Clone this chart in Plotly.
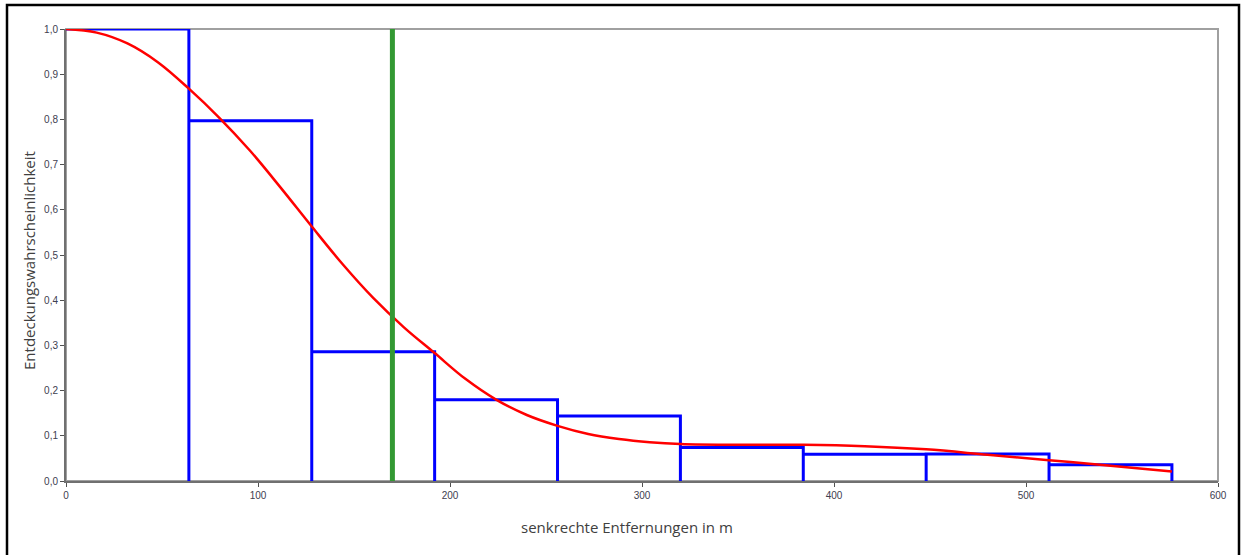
import plotly.graph_objects as go

# Histogram of detection probability (bin edges in m, heights)
bin_edges = [0, 64, 128, 192, 256, 320, 384, 448, 512, 576]
bin_heights = [1.0, 0.797, 0.286, 0.180, 0.144, 0.074, 0.059, 0.060, 0.036]

# Fitted detection function (red curve)
curve_x = [0, 16, 32, 48, 64, 80, 96, 112, 128, 144, 160, 176, 192, 208, 224,
           240, 256, 272, 288, 304, 320, 352, 384, 416, 448, 480, 512, 544, 576]
curve_y = [1.0, 0.992, 0.968, 0.926, 0.868, 0.803, 0.73, 0.648, 0.563, 0.48,
           0.405, 0.34, 0.283, 0.226, 0.18, 0.146, 0.122, 0.104, 0.093, 0.086,
           0.082, 0.08, 0.08, 0.077, 0.07, 0.058, 0.046, 0.034, 0.021]

# Truncation / cutoff distance (green line)
cutoff = 170

y_ticks = [0, 0.1, 0.2, 0.3, 0.4, 0.5, 0.6, 0.7, 0.8, 0.9, 1.0]
x_ticks = [0, 100, 200, 300, 400, 500, 600]

# Build histogram outline (each bin: top edge plus vertical edges down to 0;
# the left edge of the first bin coincides with the y axis)
hist_x, hist_y = [], []
for i, h in enumerate(bin_heights):
    x0, x1 = bin_edges[i], bin_edges[i + 1]
    if i == 0:
        hist_x += [x0, x1, x1]
        hist_y += [h, h, 0]
    else:
        hist_x += [x0, x0, x1, x1]
        hist_y += [0, h, h, 0]

fig = go.Figure()
fig.add_trace(go.Scatter(
    x=hist_x, y=hist_y, mode="lines", line=dict(color="#0000FF", width=3),
    cliponaxis=False, showlegend=False, hoverinfo="skip",
))
fig.add_trace(go.Scatter(
    x=curve_x, y=curve_y, mode="lines", line=dict(color="#FF0000", width=2.5, shape="spline"),
    cliponaxis=False, showlegend=False,
))
fig.add_trace(go.Scatter(
    x=[cutoff, cutoff], y=[0, 1.0], mode="lines", line=dict(color="#339933", width=5),
    cliponaxis=False, showlegend=False,
))

tickfont = dict(family="Liberation Sans, Arial, sans-serif", size=10, color="#404050")
titlefont = dict(family="Open Sans, sans-serif", size=15, color="#404040")

L, T, PW, PH = 66, 29, 1152, 452

fig.update_layout(
    width=1242, height=555,
    margin=dict(l=L, r=1242 - L - PW, t=T, b=555 - T - PH),
    paper_bgcolor="white", plot_bgcolor="white",
    separators=",.",
    xaxis=dict(
        range=[0, 600], tickvals=x_ticks, showgrid=False, zeroline=False,
        showline=True, linecolor="#707070", linewidth=2, layer="above traces",
        ticks="outside", ticklen=4, tickcolor="#505050", tickwidth=1,
        tickfont=tickfont,
    ),
    yaxis=dict(
        range=[0, 1.0], tickvals=y_ticks, tickformat=".1f", showgrid=False, zeroline=False,
        showline=True, linecolor="#707070", linewidth=2, layer="above traces",
        ticks="outside", ticklen=4, tickcolor="#505050", tickwidth=1,
        tickfont=tickfont,
    ),
    shapes=[
        # plot area border (top/right)
        dict(type="rect", xref="paper", yref="paper", x0=0, x1=1, y0=0, y1=1,
             line=dict(color="#a0a0a0", width=2), layer="below"),
        # outer chart border
        dict(type="rect", xref="paper", yref="paper",
             x0=(7 - L) / PW, x1=(1239 - L) / PW,
             y0=(T + PH - 560) / PH, y1=(T + PH - 5) / PH,
             line=dict(color="#000000", width=2.5)),
    ],
    annotations=[
        dict(text="senkrechte Entfernungen in m", xref="paper", yref="paper",
             x=(627 - L) / PW, y=(T + PH - 527) / PH, xanchor="center", yanchor="middle",
             showarrow=False, font=titlefont),
        dict(text="Entdeckungswahrscheinlichkeit", xref="paper", yref="paper",
             x=(29 - L) / PW, y=(T + PH - 261) / PH, xanchor="center", yanchor="middle",
             textangle=-90, showarrow=False, font=titlefont),
    ],
)

fig.write_html("out.html", config={"displayModeBar": False},
               post_script="document.body.style.margin='0px';")
